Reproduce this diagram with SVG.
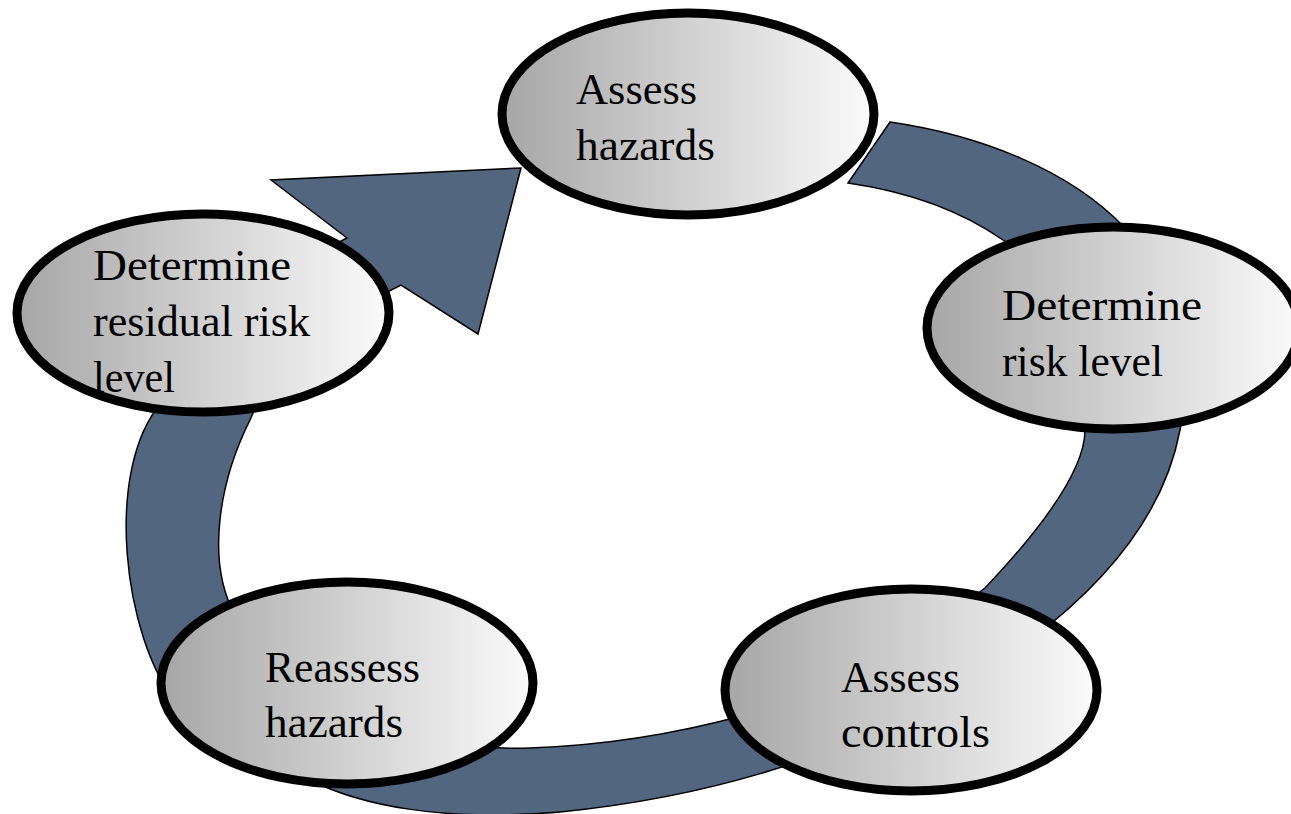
<svg xmlns="http://www.w3.org/2000/svg" width="1291" height="814" viewBox="0 0 1291 814">
<defs>
<linearGradient id="g" x1="0" y1="0" x2="1" y2="0">
<stop offset="0" stop-color="#a6a6a6"/>
<stop offset="1" stop-color="#fbfbfb"/>
</linearGradient>
<style>
.node ellipse{fill:url(#g);stroke:#000;stroke-width:9}
.node text{font-family:"Liberation Serif","Times New Roman",serif;font-size:44px;fill:#000}
.band{fill:#536680;stroke:#000;stroke-width:1.5;stroke-linejoin:miter}
</style>
</defs>
<rect width="1291" height="814" fill="#fff"/>
<g id="connectors">
<path class="band" d="M890,122 C980,135 1070,170 1125,228 C1175,280 1195,360 1180,430 C1165,510 1110,580 1030,640 C930,715 780,790 560,812 C440,822 360,805 310,780 C240,745 200,720 175,700 C125,640 102,470 162,402 C195,350 260,280 347,238 L271,180 L521,168 L478,334 L401,285 C330,320 270,370 250,420 C220,480 205,560 235,615 C280,700 400,752 530,748 C620,745 690,730 745,715 C850,690 930,630 985,588 C1040,530 1085,470 1085,430 C1090,350 1060,285 1003,240 C960,210 910,192 848,183 Z"/>
</g>
<g id="assess-hazards" class="node">
<ellipse cx="688" cy="114" rx="186" ry="101"/>
<text x="576" y="104" textLength="121" lengthAdjust="spacingAndGlyphs">Assess</text>
<text x="576" y="160" textLength="139" lengthAdjust="spacingAndGlyphs">hazards</text>
</g>
<g id="determine-risk-level" class="node">
<ellipse cx="1113" cy="328" rx="186" ry="101"/>
<text x="1002" y="320" textLength="200" lengthAdjust="spacingAndGlyphs">Determine</text>
<text x="1002" y="376" textLength="161" lengthAdjust="spacingAndGlyphs">risk level</text>
</g>
<g id="assess-controls" class="node">
<ellipse cx="911" cy="690" rx="186" ry="101"/>
<text x="841" y="692" textLength="119" lengthAdjust="spacingAndGlyphs">Assess</text>
<text x="841" y="747" textLength="149" lengthAdjust="spacingAndGlyphs">controls</text>
</g>
<g id="reassess-hazards" class="node">
<ellipse cx="347" cy="683" rx="186" ry="101"/>
<text x="265" y="682" textLength="155" lengthAdjust="spacingAndGlyphs">Reassess</text>
<text x="265" y="737" textLength="138" lengthAdjust="spacingAndGlyphs">hazards</text>
</g>
<g id="determine-residual-risk-level" class="node">
<ellipse cx="203" cy="313" rx="186" ry="99"/>
<text x="93" y="280" textLength="198" lengthAdjust="spacingAndGlyphs">Determine</text>
<text x="93" y="336" textLength="217" lengthAdjust="spacingAndGlyphs">residual risk</text>
<text x="93" y="392" textLength="82" lengthAdjust="spacingAndGlyphs">level</text>
</g>
</svg>
